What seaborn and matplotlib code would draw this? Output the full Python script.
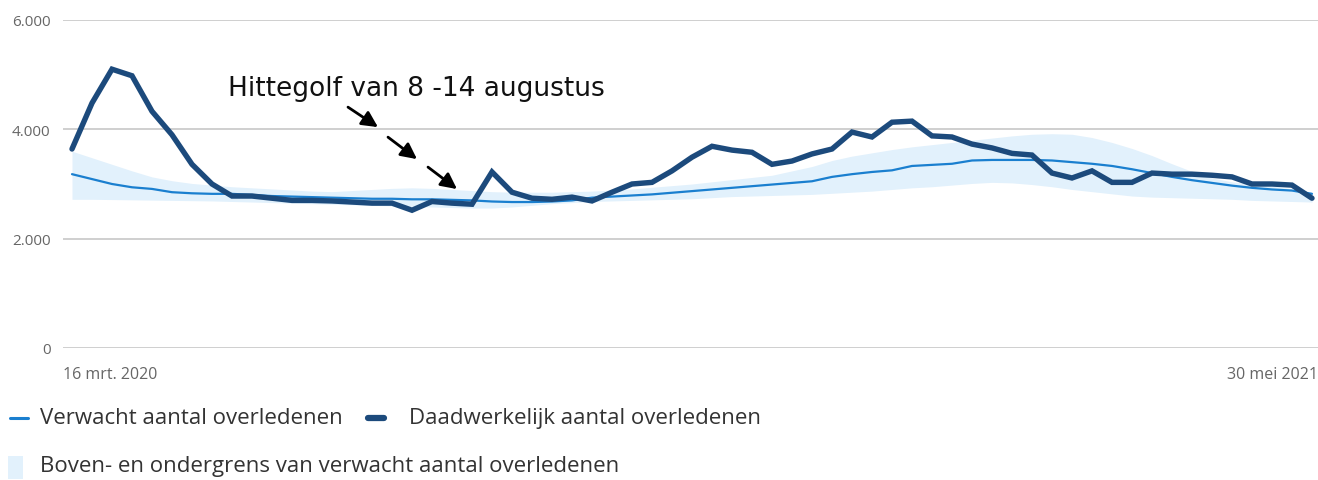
import matplotlib
matplotlib.use("Agg")
import matplotlib.pyplot as plt
import seaborn as sns
import numpy as np
import pandas as pd
from matplotlib.lines import Line2D
from matplotlib.patches import Rectangle

# Weekly deaths, week 12 of 2020 (16 March) to week 21 of 2021 (30 May)
actual = [3640, 4480, 5100, 4980, 4330, 3900, 3360, 3000, 2780, 2780,
          2740, 2700, 2700, 2690, 2670, 2650, 2650, 2520, 2680, 2650,
          2630, 3220, 2850, 2740, 2720, 2760, 2690, 2850, 3000, 3030,
          3240, 3490, 3690, 3620, 3580, 3360, 3420, 3550, 3640, 3950,
          3860, 4130, 4150, 3880, 3860, 3730, 3660, 3560, 3530, 3200,
          3110, 3240, 3030, 3030, 3200, 3180, 3180, 3160, 3130, 3000,
          3000, 2980, 2740]
expected = [3180, 3090, 3000, 2940, 2910, 2850, 2830, 2820, 2820, 2800,
            2780, 2770, 2760, 2750, 2740, 2730, 2730, 2720, 2720, 2710,
            2700, 2680, 2670, 2670, 2680, 2700, 2750, 2770, 2790, 2810,
            2840, 2870, 2900, 2930, 2960, 2990, 3020, 3050, 3130, 3180,
            3220, 3250, 3330, 3350, 3370, 3430, 3440, 3440, 3440, 3430,
            3400, 3370, 3330, 3270, 3200, 3130, 3070, 3020, 2970, 2930,
            2900, 2880, 2820]
upper = [3600, 3480, 3360, 3240, 3130, 3060, 3010, 2980, 2950, 2930,
         2910, 2890, 2870, 2860, 2880, 2900, 2920, 2930, 2920, 2900,
         2880, 2860, 2850, 2850, 2850, 2860, 2870, 2890, 2910, 2940,
         2970, 3000, 3040, 3080, 3120, 3160, 3240, 3320, 3430, 3510,
         3570, 3630, 3680, 3720, 3760, 3800, 3840, 3880, 3910, 3920,
         3910, 3850, 3760, 3650, 3520, 3370, 3230, 3110, 3040, 3000,
         2960, 2910, 2850]
lower = [2720, 2720, 2715, 2710, 2705, 2700, 2695, 2690, 2680, 2670,
         2660, 2650, 2640, 2630, 2620, 2610, 2600, 2590, 2580, 2570,
         2560, 2560, 2580, 2610, 2640, 2660, 2680, 2690, 2700, 2710,
         2720, 2730, 2750, 2770, 2780, 2790, 2800, 2810, 2830, 2850,
         2870, 2900, 2930, 2950, 2980, 3010, 3030, 3020, 2990, 2950,
         2900, 2860, 2820, 2780, 2760, 2750, 2740, 2730, 2720, 2700,
         2690, 2680, 2670]
x_labels = ["16 mrt. 2020", "30 mei 2021"]
y_ticks = [0, 2000, 4000, 6000]
y_tick_labels = ["0", "2.000", "4.000", "6.000"]

week = np.arange(len(actual))
df = pd.DataFrame({"week": week, "actual": actual, "expected": expected,
                   "upper": upper, "lower": lower})

sns.set_theme(style="white")
plt.rcParams["font.family"] = ["Open Sans", "DejaVu Sans"]

DARK = "#1c4a7c"
MID = "#1a7fcf"
BAND = "#e2f1fc"

fig = plt.figure(figsize=(13.18, 4.81), dpi=100)
ax = fig.add_axes([63 / 1318, 1 - 349 / 481, 1 - 63 / 1318, 328 / 481])

ax.fill_between(df["week"], df["lower"], df["upper"], color=BAND, lw=0, zorder=1)
sns.lineplot(data=df, x="week", y="expected", ax=ax, color=MID, lw=1.6, zorder=3)
sns.lineplot(data=df, x="week", y="actual", ax=ax, color=DARK, lw=3.9, zorder=4,
             solid_joinstyle="miter")

ax.set_ylim(0, 6000)
ax.set_xlim(-0.45, len(actual) - 1 + 0.3)
ax.set_yticks(y_ticks)
ax.set_yticklabels(y_tick_labels)
ax.yaxis.grid(True, color="#cccccc", lw=1.3)
ax.set_axisbelow(True)
for s in ax.spines.values():
    s.set_visible(False)
ax.tick_params(axis="y", length=0, pad=9, labelsize=11, labelcolor="#666666")

ax.set_xticks([-0.45, len(actual) - 1 + 0.3])
ax.set_xticklabels(x_labels)
ax.tick_params(axis="x", length=0, pad=13, labelsize=11.5, labelcolor="#666666")
xt = ax.get_xticklabels()
xt[0].set_ha("left")
xt[1].set_ha("right")
ax.set_xlabel("")
ax.set_ylabel("")

# Heatwave annotation with a broken arrow
ax.text(7.8, 4760, "Hittegolf van 8 -14 augustus", fontsize=19, color="#111111",
        ha="left", va="center", family=["DejaVu Sans"])
for (x0, y0, x1, y1) in [(13.8, 4406, 15.3, 4040), (15.8, 3857, 17.25, 3455),
                         (17.8, 3309, 19.25, 2907)]:
    ax.annotate("", xy=(x1, y1), xytext=(x0, y0),
                arrowprops=dict(arrowstyle="-|>,head_length=0.8,head_width=0.4",
                                color="black", lw=2.0, shrinkA=0, shrinkB=0))

# Legend
def fx(px):
    return px / 1318

def fy(py):
    return 1 - py / 481

fig.add_artist(Line2D([fx(10), fx(28)], [fy(419), fy(419)], color=MID, lw=2.2))
fig.text(fx(40), fy(419), "Verwacht aantal overledenen", fontsize=16,
         color="#333333", va="center", ha="left")
fig.add_artist(Line2D([fx(368), fx(384)], [fy(419), fy(419)], color=DARK, lw=4.5,
                      solid_capstyle="round"))
fig.text(fx(409), fy(419), "Daadwerkelijk aantal overledenen", fontsize=16,
         color="#333333", va="center", ha="left")
fig.add_artist(Rectangle((fx(8), fy(480)), fx(15), 23 / 481, color=BAND, lw=0))
fig.text(fx(40), fy(467), "Boven- en ondergrens van verwacht aantal overledenen",
         fontsize=16, color="#333333", va="center", ha="left")

fig.savefig("out.png", dpi=100)
